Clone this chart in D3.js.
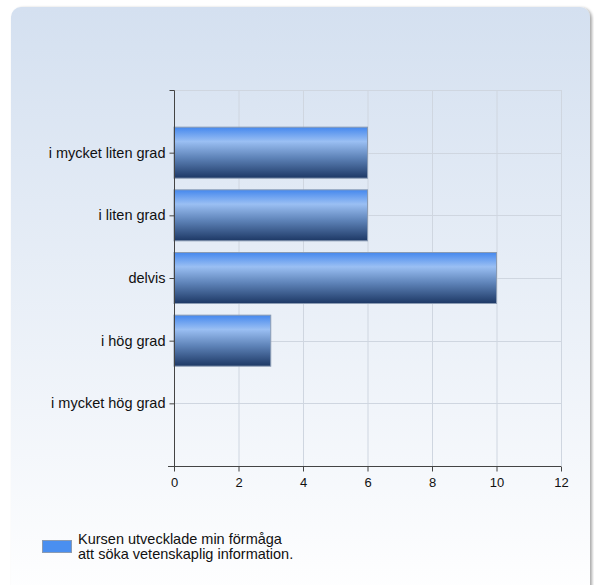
<!DOCTYPE html>
<html>
<head>
<meta charset="utf-8">
<script src="https://cdn.jsdelivr.net/npm/d3@7"></script>
<style>
  body { margin: 0; background: #fff; }
  svg { display: block; font-family: "Liberation Sans", Arial, sans-serif; }
</style>
</head>
<body>
<div id="viz"></div>
<script>
var categories = ["i mycket liten grad", "i liten grad", "delvis", "i hög grad", "i mycket hög grad"];
var values = [6, 6, 10, 3, 0];
var xTicks = [0, 2, 4, 6, 8, 10, 12];
var legendLines = ["Kursen utvecklade min förmåga", "att söka vetenskaplig information."];

var width = 594,
    height = 585;

var plot = { left: 174, right: 561, top: 90, bottom: 466 };

var svg = d3.select("#viz").append("svg")
    .attr("width", width)
    .attr("height", height);

var defs = svg.append("defs");

// panel background
var bg = defs.append("linearGradient")
    .attr("id", "bg").attr("x1", 0).attr("y1", 0).attr("x2", 0).attr("y2", 1);
bg.append("stop").attr("offset", "0%").attr("stop-color", "#d4e0f0");
bg.append("stop").attr("offset", "100%").attr("stop-color", "#ffffff");

// bar shading
var bar = defs.append("linearGradient")
    .attr("id", "bar").attr("x1", 0).attr("y1", 0).attr("x2", 0).attr("y2", 1);
bar.append("stop").attr("offset", "0%").attr("stop-color", "#4588ee");
bar.append("stop").attr("offset", "28%").attr("stop-color", "#9abff3");
bar.append("stop").attr("offset", "60%").attr("stop-color", "#5e83b8");
bar.append("stop").attr("offset", "100%").attr("stop-color", "#1d3865");

var shadow = defs.append("filter").attr("id", "shadow")
    .attr("x", "-5%").attr("y", "-5%").attr("width", "110%").attr("height", "110%");
shadow.append("feGaussianBlur").attr("in", "SourceAlpha").attr("stdDeviation", 1.5);
shadow.append("feOffset").attr("dx", 2).attr("dy", 1).attr("result", "b");
shadow.append("feComponentTransfer").append("feFuncA").attr("type", "linear").attr("slope", 0.35);
var merge = shadow.append("feMerge");
merge.append("feMergeNode");
merge.append("feMergeNode").attr("in", "SourceGraphic");

svg.append("rect")
    .attr("x", 11).attr("y", 7)
    .attr("width", 579).attr("height", 600)
    .attr("rx", 10).attr("ry", 10)
    .attr("fill", "url(#bg)")
    .attr("filter", "url(#shadow)");

var x = d3.scaleLinear()
    .domain([0, 12])
    .range([plot.left, plot.right]);

var y = d3.scalePoint()
    .domain(categories)
    .range([plot.top, plot.bottom])
    .padding(1);

// grid
var grid = svg.append("g").attr("stroke", "#cfd6e0").attr("stroke-width", 1);
grid.selectAll(".vx").data(xTicks.slice(1)).enter().append("line")
    .attr("x1", function(d) { return x(d) + 0.5; })
    .attr("x2", function(d) { return x(d) + 0.5; })
    .attr("y1", plot.top).attr("y2", plot.bottom);
grid.selectAll(".hy").data(categories).enter().append("line")
    .attr("x1", plot.left).attr("x2", plot.right)
    .attr("y1", function(d) { return Math.round(y(d)) + 0.5; })
    .attr("y2", function(d) { return Math.round(y(d)) + 0.5; });
grid.append("line")
    .attr("x1", plot.left).attr("x2", plot.right)
    .attr("y1", plot.top + 0.5).attr("y2", plot.top + 0.5);

// bars
var barH = 51;
svg.selectAll(".bar").data(values).enter().append("rect")
    .attr("x", x(0))
    .attr("y", function(d, i) { return y(categories[i]) - barH / 2; })
    .attr("width", function(d) { return x(d) - x(0); })
    .attr("height", function(d) { return d > 0 ? barH : 0; })
    .attr("fill", "url(#bar)")
    .attr("stroke", "#8a9bb3")
    .attr("stroke-width", 1);

// axes
var yAxis = d3.axisLeft(y).tickSize(5).tickPadding(4);
var gy = svg.append("g")
    .attr("transform", "translate(" + (plot.left + 0.5) + ",0)")
    .call(yAxis);
gy.select(".domain").attr("d", "M-5," + (plot.top + 0.5) + "H0V" + plot.bottom);
gy.selectAll("text").attr("font-size", 14.5).attr("fill", "#111")
    .attr("font-family", "Liberation Sans, Arial, sans-serif");
gy.selectAll("line, path").attr("stroke", "#444");

var xAxis = d3.axisBottom(x).tickValues(xTicks).tickSize(5).tickPadding(6);
var gx = svg.append("g")
    .attr("transform", "translate(0," + (plot.bottom + 0.5) + ")")
    .call(xAxis);
gx.select(".domain").attr("d", "M" + (plot.left - 6) + ",0H" + plot.right);
gx.selectAll("text").attr("font-size", 13).attr("fill", "#111")
    .attr("font-family", "Liberation Sans, Arial, sans-serif");
gx.selectAll("line, path").attr("stroke", "#444");

// legend
svg.append("rect")
    .attr("x", 42.5).attr("y", 540.5)
    .attr("width", 29).attr("height", 12)
    .attr("fill", "#4a8ff0")
    .attr("stroke", "#8a9bb3");

svg.append("text")
    .attr("x", 78).attr("y", 543.5)
    .attr("font-size", 14.5).attr("fill", "#111")
    .selectAll("tspan").data(legendLines).enter().append("tspan")
    .attr("x", 78)
    .attr("dy", function(d, i) { return i ? 15 : 0; })
    .text(function(d) { return d; });
</script>
</body>
</html>
